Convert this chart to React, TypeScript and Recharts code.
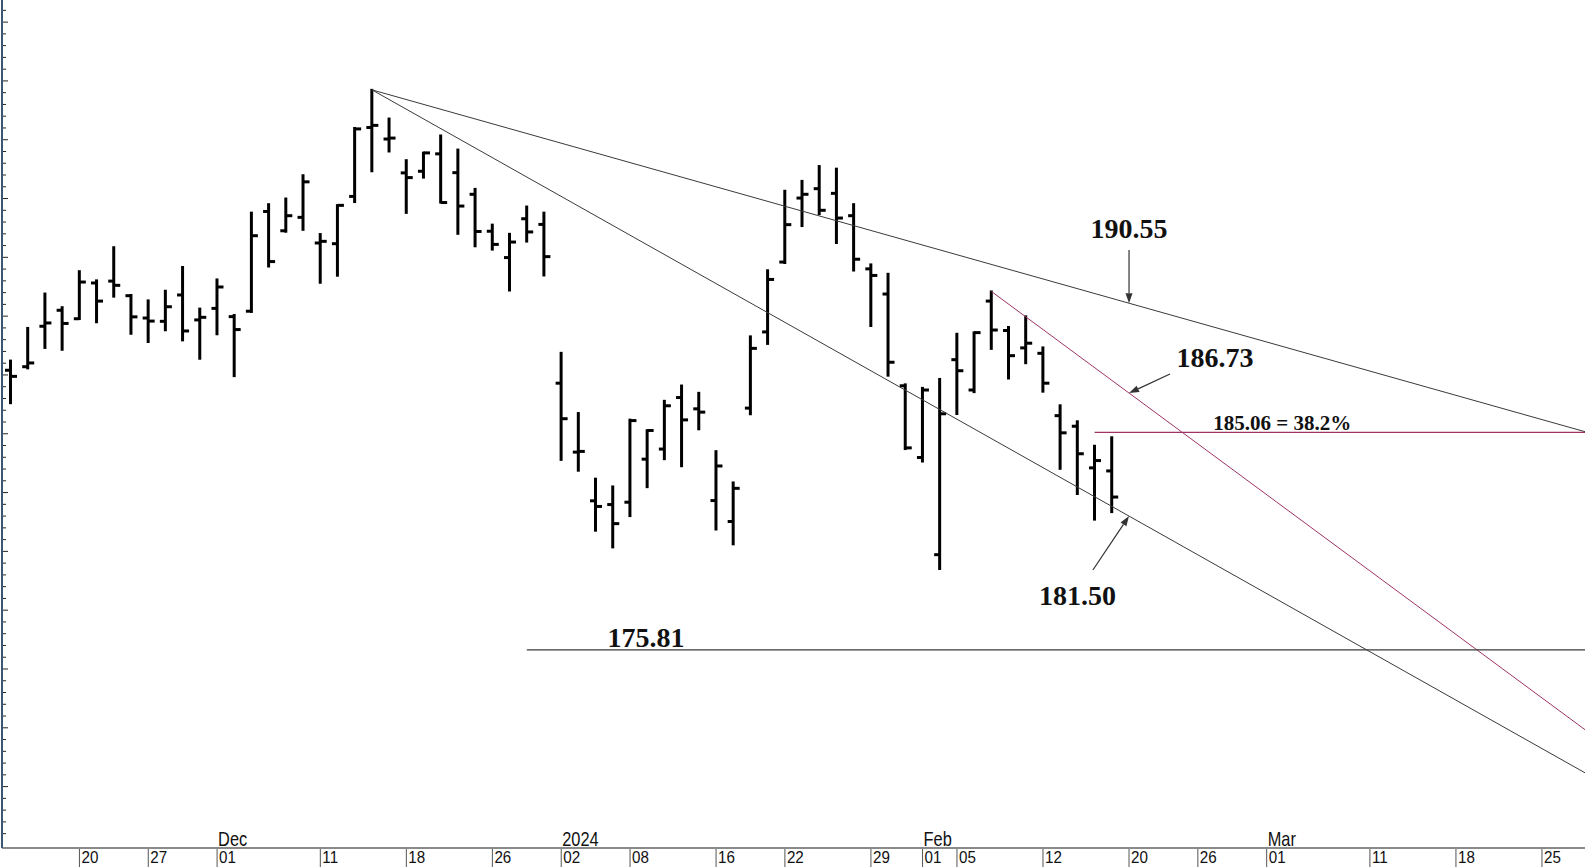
import React from "react";
import {
  ComposedChart,
  Bar,
  XAxis,
  YAxis,
  ReferenceLine,
  ReferenceDot,
} from "recharts";

// daily bars, one per trading day (index = position on the x axis)
const dates = [
  "2023-11-14", "2023-11-15", "2023-11-16", "2023-11-17", "2023-11-20", "2023-11-21",
  "2023-11-22", "2023-11-24", "2023-11-27", "2023-11-28", "2023-11-29", "2023-11-30",
  "2023-12-01", "2023-12-04", "2023-12-05", "2023-12-06", "2023-12-07", "2023-12-08",
  "2023-12-11", "2023-12-12", "2023-12-13", "2023-12-14", "2023-12-15", "2023-12-18",
  "2023-12-19", "2023-12-20", "2023-12-21", "2023-12-22", "2023-12-26", "2023-12-27",
  "2023-12-28", "2023-12-29", "2024-01-02", "2024-01-03", "2024-01-04", "2024-01-05",
  "2024-01-08", "2024-01-09", "2024-01-10", "2024-01-11", "2024-01-12", "2024-01-16",
  "2024-01-17", "2024-01-18", "2024-01-19", "2024-01-22", "2024-01-23", "2024-01-24",
  "2024-01-25", "2024-01-26", "2024-01-29", "2024-01-30", "2024-01-31", "2024-02-01",
  "2024-02-02", "2024-02-05", "2024-02-06", "2024-02-07", "2024-02-08", "2024-02-09",
  "2024-02-12", "2024-02-13", "2024-02-14", "2024-02-15", "2024-02-16",
];
const opens = [
  187.7, 187.85, 189.57, 190.25, 189.89, 191.41, 191.49, 190.87, 189.92, 189.78, 190.9, 189.84,
  190.33, 189.98, 190.21, 194.45, 193.63, 194.2, 193.11, 193.08, 195.09, 198.02, 197.53, 196.09,
  196.16, 196.9, 196.1, 195.18, 193.61, 192.49, 194.14, 193.9, 187.15, 184.22, 182.15, 181.99,
  182.09, 183.92, 184.35, 186.54, 186.06, 182.16, 181.27, 186.09, 189.33, 192.3, 195.02, 195.42,
  195.22, 194.27, 192.01, 190.94, 187.04, 183.99, 179.86, 188.15, 186.86, 190.64, 189.39, 188.65,
  188.42, 185.77, 185.32, 183.55, 183.42,
];
const highs = [
  188.11, 189.5, 190.96, 190.38, 191.91, 191.52, 192.93, 190.9, 190.67, 191.08, 192.09, 190.32,
  191.56, 190.05, 194.4, 194.76, 195.0, 195.99, 193.49, 194.72, 198.0, 199.62, 198.4, 196.63,
  196.95, 197.68, 197.08, 195.41, 193.89, 193.5, 194.66, 194.4, 188.44, 185.88, 183.09, 182.76,
  185.6, 185.15, 186.4, 187.05, 186.74, 184.26, 182.93, 189.14, 191.95, 195.33, 195.75, 196.38,
  196.27, 194.76, 192.2, 191.8, 187.1, 186.95, 187.33, 189.25, 189.31, 191.05, 189.54, 189.99,
  188.67, 186.21, 185.53, 184.49, 184.85,
];
const lows = [
  186.3, 187.78, 188.65, 188.57, 189.88, 189.74, 190.83, 189.25, 188.9, 189.4, 188.97, 188.19,
  189.23, 187.45, 190.18, 192.11, 193.59, 193.67, 191.42, 191.72, 194.85, 196.16, 197.0, 194.39,
  195.89, 194.83, 193.5, 192.97, 192.83, 191.09, 193.17, 191.73, 183.89, 183.43, 180.88, 180.17,
  181.5, 182.73, 183.92, 183.62, 185.19, 180.93, 180.3, 185.83, 188.82, 192.26, 193.83, 194.34,
  193.11, 191.94, 189.58, 187.47, 184.35, 183.82, 179.25, 185.84, 186.77, 188.61, 187.35, 188.0,
  186.79, 183.51, 182.44, 181.35, 181.67,
];
const closes = [
  187.44, 188.01, 189.71, 189.69, 191.45, 190.64, 191.31, 189.97, 189.79, 190.4, 189.37, 189.95,
  191.24, 189.43, 193.42, 192.32, 194.27, 195.71, 193.18, 194.71, 197.96, 198.11, 197.57, 195.89,
  196.94, 194.83, 194.68, 193.6, 193.05, 193.15, 193.58, 192.53, 185.64, 184.25, 181.91, 181.18,
  185.56, 185.14, 186.19, 185.59, 185.92, 183.63, 182.68, 188.63, 191.56, 193.89, 195.18, 194.5,
  194.17, 192.42, 191.73, 188.04, 184.4, 186.86, 185.85, 187.68, 189.3, 189.41, 188.32, 188.85,
  187.15, 185.04, 184.15, 183.86, 182.31,
];

// date axis (trading-day index -> label)
const xTickIdx = [4, 8, 12, 18, 23, 28, 32, 36, 41, 45, 50, 53, 55, 60, 65, 69, 73, 79, 84, 89];
const xTickLabels = ["20", "27", "01", "11", "18", "26", "02", "08", "16", "22", "29", "01", "05", "12", "20", "26", "01", "11", "18", "25"];
const monthIdx = [12, 32, 53, 73];
const monthLabels = ["Dec", "2024", "Feb", "Mar"];

// trend lines: start point and a second point they pass through
const trendFrom = [[21, 199.62], [21, 199.62], [57, 191.05]];
const trendVia = [[65, 190.55], [65, 181.5], [65, 186.73]];
const trendColors = ["#3a3a3a", "#3a3a3a", "#9e3466"];

// horizontal levels
const levelStart = [30, 63];
const levelValue = [175.81, 185.06];
const levelColors = ["#3a3a3a", "#9e3466"];

// arrows: tail -> tip
const arrowTail = [[65, 192.81], [67.38, 187.54], [62.9, 179.21]];
const arrowTip = [[65, 190.55], [65, 186.73], [65, 181.5]];

// annotation texts
const noteText = ["190.55", "186.73", "181.50", "175.81", "185.06 = 38.2%"];
const notePos = [[65, 193.33], [70, 187.84], [62, 177.72], [36.93, 175.94], [69.9, 185.16]];
const noteSize = [28, 28, 28, 28, 21];
const noteAnchor = ["middle", "middle", "middle", "middle", "start"];

const X_MIN = -0.5;
const X_MAX = 91.5;
const Y_MIN = 167.39;
const Y_MAX = 203.44;

const yTicks: number[] = [];
for (let v = 168; v <= 203; v += 0.5) yTicks.push(v);

const rows = dates.map((d, i) => ({
  i,
  date: d,
  o: opens[i],
  h: highs[i],
  l: lows[i],
  c: closes[i],
  range: [lows[i], highs[i]],
}));

const SANS = "'Liberation Sans', Arial, sans-serif";
const SERIF = "'Liberation Serif', 'Times New Roman', serif";

function OhlcShape(props: any) {
  const { x, y, width, height, payload } = props;
  if (payload == null) return null;
  const cx = x + width / 2;
  const top = Math.min(y, y + height);
  const bot = Math.max(y, y + height);
  const span = payload.h - payload.l || 1;
  const k = (bot - top) / span;
  const yo = top + (payload.h - payload.o) * k;
  const yc = top + (payload.h - payload.c) * k;
  return (
    <g>
      <line x1={cx} x2={cx} y1={top - 1} y2={bot + 1} stroke="#000" strokeWidth={3} />
      <line x1={cx - 5.5} x2={cx} y1={yo} y2={yo} stroke="#000" strokeWidth={3} />
      <line x1={cx} x2={cx + 6.5} y1={yc} y2={yc} stroke="#000" strokeWidth={3} />
    </g>
  );
}

// narrow look: regular sans squeezed horizontally
function NarrowText({ x, y, size, sx, children }: any) {
  return (
    <g transform={`translate(${x},${y}) scale(${sx},1)`}>
      <text x={0} y={0} fontSize={size} fontFamily={SANS} fill="#111">
        {children}
      </text>
    </g>
  );
}

function XTick(props: any) {
  const { x, y, payload } = props;
  const k = xTickIdx.indexOf(payload.value);
  const m = monthIdx.indexOf(payload.value);
  return (
    <g>
      <line x1={x} x2={x} y1={y + 1} y2={y + 20} stroke="#555" strokeWidth={1} />
      {k >= 0 && (
        <NarrowText x={x + 2} y={y + 15} size={16} sx={0.95}>
          {xTickLabels[k]}
        </NarrowText>
      )}
      {m >= 0 && (
        <NarrowText x={x + 1} y={y - 2} size={20} sx={0.82}>
          {monthLabels[m]}
        </NarrowText>
      )}
    </g>
  );
}

function YTick(props: any) {
  const { x, y, payload } = props;
  const major = Math.abs(payload.value / 2.5 - Math.round(payload.value / 2.5)) < 1e-6;
  return <line x1={x + 1} x2={x + (major ? 6 : 4)} y1={y} y2={y} stroke="#222" strokeWidth={1} />;
}

function ArrowShape(props: any) {
  const { x1, y1, x2, y2 } = props;
  const dx = x2 - x1;
  const dy = y2 - y1;
  const len = Math.sqrt(dx * dx + dy * dy) || 1;
  const ux = dx / len;
  const uy = dy / len;
  const hl = 10;
  const hw = 3.5;
  const bx = x2 - ux * hl;
  const by = y2 - uy * hl;
  const pts = `${x2},${y2} ${bx - uy * hw},${by + ux * hw} ${bx + uy * hw},${by - ux * hw}`;
  return (
    <g>
      <line x1={x1} y1={y1} x2={bx} y2={by} stroke="#333" strokeWidth={1.2} />
      <polygon points={pts} fill="#333" />
    </g>
  );
}

function noteShape(idx: number) {
  return (props: any) => (
    <text
      x={props.cx}
      y={props.cy}
      textAnchor={noteAnchor[idx] as any}
      fontFamily={SERIF}
      fontWeight="bold"
      fontSize={noteSize[idx]}
      fill="#111"
    >
      {noteText[idx]}
    </text>
  );
}

export default function App() {
  return (
    <div style={{ position: "absolute", left: 0, top: 0, background: "#fff" }}>
      <ComposedChart
        width={1585}
        height={867}
        data={rows}
        margin={{ top: 0, right: 0, bottom: 0, left: 0 }}
      >
        <XAxis
          dataKey="i"
          type="number"
          domain={[X_MIN, X_MAX]}
          allowDataOverflow
          ticks={xTickIdx}
          interval={0}
          tick={<XTick />}
          tickLine={false}
          tickSize={0}
          tickMargin={0}
          height={19}
          axisLine={{ stroke: "#8a8a8a", strokeWidth: 2 }}
        />
        <YAxis
          type="number"
          domain={[Y_MIN, Y_MAX]}
          allowDataOverflow
          ticks={yTicks}
          interval={0}
          tick={<YTick />}
          tickLine={false}
          tickSize={0}
          tickMargin={0}
          width={2}
          axisLine={{ stroke: "#3a5673", strokeWidth: 2 }}
        />
        <Bar dataKey="range" barSize={3} shape={<OhlcShape />} isAnimationActive={false} />

        {trendFrom.map((p, k) => {
          const slope = (trendVia[k][1] - p[1]) / (trendVia[k][0] - p[0]);
          const yEnd = p[1] + slope * (X_MAX - p[0]);
          return (
            <ReferenceLine
              key={"t" + k}
              segment={[{ x: p[0], y: p[1] }, { x: X_MAX, y: yEnd }]}
              stroke={trendColors[k]}
              strokeWidth={1}
              ifOverflow="visible"
            />
          );
        })}
        {levelStart.map((s, k) => (
          <ReferenceLine
            key={"l" + k}
            segment={[{ x: s, y: levelValue[k] }, { x: X_MAX, y: levelValue[k] }]}
            stroke={levelColors[k]}
            strokeWidth={1.2}
            ifOverflow="visible"
          />
        ))}
        {arrowTail.map((t, k) => (
          <ReferenceLine
            key={"a" + k}
            segment={[{ x: t[0], y: t[1] }, { x: arrowTip[k][0], y: arrowTip[k][1] }]}
            shape={ArrowShape}
            ifOverflow="visible"
          />
        ))}
        {notePos.map((p, k) => (
          <ReferenceDot
            key={"n" + k}
            x={p[0]}
            y={p[1]}
            r={0}
            shape={noteShape(k)}
            ifOverflow="visible"
          />
        ))}
      </ComposedChart>
    </div>
  );
}
